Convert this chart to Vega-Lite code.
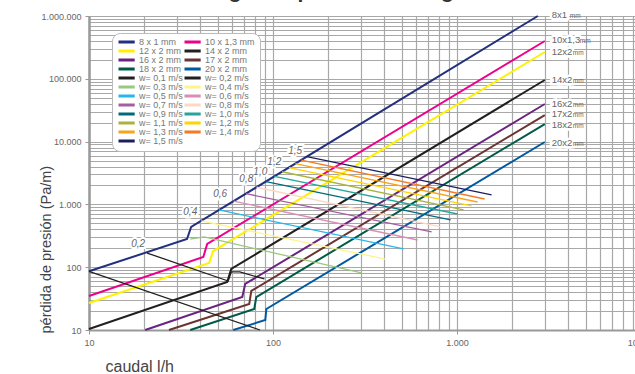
{
  "$schema": "https://vega.github.io/schema/vega-lite/v6.json",
  "width": 552,
  "height": 314,
  "autosize": {"type": "none"},
  "padding": {"left": 89, "top": 16, "right": 0, "bottom": 44},
  "background": "white",
  "title": {"text": "Diagrama pérdida de carga", "anchor": "start", "frame": "group", "dx": 107, "dy": 11, "offset": 2, "baseline": "alphabetic", "fontSize": 21, "fontWeight": "bold", "font": "Liberation Sans", "color": "#333333"},
  "config": {"view": {"stroke": null}, "font": "Liberation Sans"},
  "datasets": {
    "lineas": [
      {"serie": "8 x 1 mm", "tipo": "tubo", "caudal": 10, "presion": 86},
      {"serie": "8 x 1 mm", "tipo": "tubo", "caudal": 34.1, "presion": 281},
      {"serie": "8 x 1 mm", "tipo": "tubo", "caudal": 35.9, "presion": 437},
      {"serie": "8 x 1 mm", "tipo": "tubo", "caudal": 2750, "presion": 1000000},
      {"serie": "10 x 1,3 mm", "tipo": "tubo", "caudal": 10, "presion": 34.8},
      {"serie": "10 x 1,3 mm", "tipo": "tubo", "caudal": 41.8, "presion": 145},
      {"serie": "10 x 1,3 mm", "tipo": "tubo", "caudal": 43.9, "presion": 234},
      {"serie": "10 x 1,3 mm", "tipo": "tubo", "caudal": 3000, "presion": 400000},
      {"serie": "12 x 2 mm", "tipo": "tubo", "caudal": 10, "presion": 26.9},
      {"serie": "12 x 2 mm", "tipo": "tubo", "caudal": 45, "presion": 117},
      {"serie": "12 x 2 mm", "tipo": "tubo", "caudal": 47.3, "presion": 181},
      {"serie": "12 x 2 mm", "tipo": "tubo", "caudal": 3000, "presion": 267000},
      {"serie": "14 x 2 mm", "tipo": "tubo", "caudal": 10, "presion": 10.4},
      {"serie": "14 x 2 mm", "tipo": "tubo", "caudal": 56.4, "presion": 58},
      {"serie": "14 x 2 mm", "tipo": "tubo", "caudal": 59.3, "presion": 93.6},
      {"serie": "14 x 2 mm", "tipo": "tubo", "caudal": 3000, "presion": 95700},
      {"serie": "16 x 2 mm", "tipo": "tubo", "caudal": 20.2, "presion": 10},
      {"serie": "16 x 2 mm", "tipo": "tubo", "caudal": 68.1, "presion": 33.5},
      {"serie": "16 x 2 mm", "tipo": "tubo", "caudal": 70.6, "presion": 54},
      {"serie": "16 x 2 mm", "tipo": "tubo", "caudal": 3000, "presion": 39700},
      {"serie": "17 x 2 mm", "tipo": "tubo", "caudal": 27.2, "presion": 10},
      {"serie": "17 x 2 mm", "tipo": "tubo", "caudal": 74.3, "presion": 26},
      {"serie": "17 x 2 mm", "tipo": "tubo", "caudal": 76.2, "presion": 41.8},
      {"serie": "17 x 2 mm", "tipo": "tubo", "caudal": 3000, "presion": 26500},
      {"serie": "18 x 2 mm", "tipo": "tubo", "caudal": 35.5, "presion": 10},
      {"serie": "18 x 2 mm", "tipo": "tubo", "caudal": 79.1, "presion": 21.6},
      {"serie": "18 x 2 mm", "tipo": "tubo", "caudal": 81.1, "presion": 33.5},
      {"serie": "18 x 2 mm", "tipo": "tubo", "caudal": 3000, "presion": 19000},
      {"serie": "20 x 2 mm", "tipo": "tubo", "caudal": 60.8, "presion": 10},
      {"serie": "20 x 2 mm", "tipo": "tubo", "caudal": 90.8, "presion": 14.4},
      {"serie": "20 x 2 mm", "tipo": "tubo", "caudal": 92, "presion": 21.6},
      {"serie": "20 x 2 mm", "tipo": "tubo", "caudal": 3000, "presion": 9860},
      {"serie": "w= 0,1 m/s", "tipo": "vel", "caudal": 10, "presion": 86},
      {"serie": "w= 0,1 m/s", "tipo": "vel", "caudal": 85, "presion": 10},
      {"serie": "w= 0,2 m/s", "tipo": "vel", "caudal": 20.7, "presion": 168},
      {"serie": "w= 0,2 m/s", "tipo": "vel", "caudal": 57.1, "presion": 60.3},
      {"serie": "w= 0,2 m/s", "tipo": "vel", "caudal": 59.3, "presion": 84},
      {"serie": "w= 0,2 m/s", "tipo": "vel", "caudal": 66, "presion": 84},
      {"serie": "w= 0,2 m/s", "tipo": "vel", "caudal": 89.8, "presion": 64.9},
      {"serie": "w= 0,3 m/s", "tipo": "vel", "caudal": 35.5, "presion": 281},
      {"serie": "w= 0,3 m/s", "tipo": "vel", "caudal": 42.3, "presion": 303},
      {"serie": "w= 0,3 m/s", "tipo": "vel", "caudal": 303, "presion": 80.9},
      {"serie": "w= 0,4 m/s", "tipo": "vel", "caudal": 40.7, "presion": 547},
      {"serie": "w= 0,4 m/s", "tipo": "vel", "caudal": 408, "presion": 135},
      {"serie": "w= 0,5 m/s", "tipo": "vel", "caudal": 50.9, "presion": 815},
      {"serie": "w= 0,5 m/s", "tipo": "vel", "caudal": 512, "presion": 195},
      {"serie": "w= 0,6 m/s", "tipo": "vel", "caudal": 61.1, "presion": 1125},
      {"serie": "w= 0,6 m/s", "tipo": "vel", "caudal": 611, "presion": 271},
      {"serie": "w= 0,7 m/s", "tipo": "vel", "caudal": 71.3, "presion": 1480},
      {"serie": "w= 0,7 m/s", "tipo": "vel", "caudal": 728, "presion": 364},
      {"serie": "w= 0,8 m/s", "tipo": "vel", "caudal": 81.4, "presion": 1875},
      {"serie": "w= 0,8 m/s", "tipo": "vel", "caudal": 814, "presion": 437},
      {"serie": "w= 0,9 m/s", "tipo": "vel", "caudal": 91.6, "presion": 2313},
      {"serie": "w= 0,9 m/s", "tipo": "vel", "caudal": 923, "presion": 565},
      {"serie": "w= 1,0 m/s", "tipo": "vel", "caudal": 101.8, "presion": 2793},
      {"serie": "w= 1,0 m/s", "tipo": "vel", "caudal": 1007, "presion": 703},
      {"serie": "w= 1,1 m/s", "tipo": "vel", "caudal": 112, "presion": 3311},
      {"serie": "w= 1,1 m/s", "tipo": "vel", "caudal": 1086, "presion": 815},
      {"serie": "w= 1,2 m/s", "tipo": "vel", "caudal": 122.2, "presion": 3864},
      {"serie": "w= 1,2 m/s", "tipo": "vel", "caudal": 1200, "presion": 944},
      {"serie": "w= 1,3 m/s", "tipo": "vel", "caudal": 132.3, "presion": 4457},
      {"serie": "w= 1,3 m/s", "tipo": "vel", "caudal": 1294, "presion": 1092},
      {"serie": "w= 1,4 m/s", "tipo": "vel", "caudal": 142.5, "presion": 5080},
      {"serie": "w= 1,4 m/s", "tipo": "vel", "caudal": 1413, "presion": 1219},
      {"serie": "w= 1,5 m/s", "tipo": "vel", "caudal": 152.7, "presion": 5741},
      {"serie": "w= 1,5 m/s", "tipo": "vel", "caudal": 1542, "presion": 1413}
    ],
    "etiquetas_w": [
      {"etiqueta": "0,2", "caudal": 18.5, "presion": 234},
      {"etiqueta": "0,4", "caudal": 35.5, "presion": 757},
      {"etiqueta": "0,6", "caudal": 51.6, "presion": 1466},
      {"etiqueta": "0,8", "caudal": 71.6, "presion": 2535},
      {"etiqueta": "1,0", "caudal": 85.3, "presion": 3281},
      {"etiqueta": "1,2", "caudal": 101.6, "presion": 4730},
      {"etiqueta": "1,5", "caudal": 132, "presion": 7080}
    ],
    "etiquetas_tubo": [
      {"etiqueta": "8x1", "caudal": 3273, "presion": 1040000},
      {"etiqueta": "10x1,3", "caudal": 3273, "presion": 415000},
      {"etiqueta": "12x2", "caudal": 3273, "presion": 267000},
      {"etiqueta": "14x2", "caudal": 3273, "presion": 95700},
      {"etiqueta": "16x2", "caudal": 3273, "presion": 39700},
      {"etiqueta": "17x2", "caudal": 3273, "presion": 27500},
      {"etiqueta": "18x2", "caudal": 3273, "presion": 18400},
      {"etiqueta": "20x2", "caudal": 3273, "presion": 9510}
    ]
  },
  "encoding": {
    "x": {
      "field": "caudal", "type": "quantitative",
      "scale": {"type": "log", "domain": [10, 10000], "nice": false},
      "axis": {
        "title": "caudal l/h",
        "values": [10, 20, 30, 40, 50, 60, 70, 80, 90, 100, 200, 300, 400, 500, 600, 700, 800, 900, 1000, 2000, 3000, 4000, 5000, 6000, 7000, 8000, 9000, 10000],
        "grid": true, "gridColor": "#a8a8a8", "gridWidth": 1.2,
        "domainColor": "#999999", "domainWidth": 2,
        "tickColor": "#999999", "tickSize": 4,
        "tickOpacity": {"condition": {"test": "indexof([10,100,1000,10000], datum.value) < 0", "value": 0}, "value": 1},
        "labelExpr": "datum.value == 10 ? '10' : datum.value == 100 ? '100' : datum.value == 1000 ? '1.000' : datum.value == 10000 ? '10.000' : ''",
        "labelColor": "#666666", "labelFontSize": 9, "labelPadding": 4, "labelFlush": false, "labelOverlap": false,
        "titleX": 16, "titleY": 41, "titleAlign": "left", "titleBaseline": "alphabetic", "titleAnchor": "start",
        "titleFontSize": 16, "titleFontWeight": "normal", "titleColor": "#444444"
      }
    },
    "y": {
      "field": "presion", "type": "quantitative",
      "scale": {"type": "log", "domain": [10, 1000000], "nice": false},
      "axis": {
        "title": "pérdida de presión (Pa/m)",
        "values": [10, 20, 30, 40, 50, 60, 70, 80, 90, 100, 200, 300, 400, 500, 600, 700, 800, 900, 1000, 2000, 3000, 4000, 5000, 6000, 7000, 8000, 9000, 10000, 20000, 30000, 40000, 50000, 60000, 70000, 80000, 90000, 100000, 200000, 300000, 400000, 500000, 600000, 700000, 800000, 900000, 1000000],
        "grid": true, "gridColor": "#a8a8a8", "gridWidth": 1.2,
        "domainColor": "#999999", "domainWidth": 2.5,
        "tickColor": "#999999", "tickSize": 4,
        "tickOpacity": {"condition": {"test": "indexof([10,100,1000,10000,100000,1000000], datum.value) < 0", "value": 0}, "value": 1},
        "labelExpr": "datum.value == 10 ? '10' : datum.value == 100 ? '100' : datum.value == 1000 ? '1.000' : datum.value == 10000 ? '10.000' : datum.value == 100000 ? '100.000' : datum.value == 1000000 ? '1.000.000' : ''",
        "labelColor": "#666666", "labelFontSize": 9, "labelPadding": 4, "labelFlush": false, "labelOverlap": false,
        "titleX": -43, "titleY": 317, "titleAngle": 270, "titleAlign": "left", "titleBaseline": "middle",
        "titleFontSize": 14.5, "titleFontWeight": "normal", "titleColor": "#444444"
      }
    }
  },
  "layer": [
    {
      "data": {"name": "lineas"},
      "transform": [{"filter": "datum.tipo == 'tubo'"}],
      "mark": {"type": "line", "strokeWidth": 2},
      "encoding": {
        "detail": {"field": "serie"},
        "color": {
          "field": "serie", "type": "nominal",
          "scale": {
            "domain": ["8 x 1 mm", "12 x 2 mm", "16 x 2 mm", "18 x 2 mm", "w= 0,1 m/s", "w= 0,3 m/s", "w= 0,5 m/s", "w= 0,7 m/s", "w= 0,9 m/s", "w= 1,1 m/s", "w= 1,3 m/s", "w= 1,5 m/s", "10 x 1,3 mm", "14 x 2 mm", "17 x 2 mm", "20 x 2 mm", "w= 0,2 m/s", "w= 0,4 m/s", "w= 0,6 m/s", "w= 0,8 m/s", "w= 1,0 m/s", "w= 1,2 m/s", "w= 1,4 m/s"],
            "range": ["#22307e", "#fff200", "#6a2381", "#005a46", "#231f20", "#98c97c", "#29b6e8", "#a65d9e", "#006a7c", "#a8b43c", "#f7a51c", "#1c1f5e", "#ec008c", "#231f20", "#6b3431", "#0059a0", "#231f20", "#fff48c", "#d98fb5", "#fcd9c4", "#26a69a", "#ffd400", "#f47b20"]
          },
          "legend": {
            "orient": "none", "legendX": 23, "legendY": 17, "columns": 2, "title": null,
            "symbolType": "M-1,0H4.4", "symbolSize": 36, "symbolStrokeWidth": 3,
            "labelFontSize": 9, "labelColor": "#777777", "labelOffset": 13, "labelLimit": 60,
            "clipHeight": 8, "rowPadding": 0, "columnPadding": 0, "padding": 5,
            "fillColor": "white", "strokeColor": "#bbbbbb", "cornerRadius": 8
          }
        }
      }
    },
    {
      "data": {"name": "lineas"},
      "transform": [{"filter": "datum.tipo == 'vel'"}],
      "mark": {"type": "line", "strokeWidth": 1.3},
      "encoding": {
        "detail": {"field": "serie"},
        "color": {"field": "serie", "type": "nominal"}
      }
    },
    {
      "data": {"name": "etiquetas_w"},
      "mark": {"type": "text", "fontStyle": "italic", "fontSize": 10, "align": "center", "baseline": "middle", "fill": "white", "stroke": "white", "strokeWidth": 4},
      "encoding": {"text": {"field": "etiqueta"}}
    },
    {
      "data": {"name": "etiquetas_w"},
      "mark": {"type": "text", "fontStyle": "italic", "fontSize": 10, "align": "center", "baseline": "middle", "fill": "#666666"},
      "encoding": {"text": {"field": "etiqueta"}}
    },
    {
      "data": {"name": "etiquetas_tubo"},
      "mark": {"type": "text", "fontSize": 9.5, "align": "left", "baseline": "middle", "fill": "white", "stroke": "white", "strokeWidth": 5},
      "encoding": {"text": {"field": "etiqueta"}}
    },
    {
      "data": {"name": "etiquetas_tubo"},
      "mark": {"type": "text", "fontSize": 9.5, "align": "left", "baseline": "middle", "fill": "#666666"},
      "encoding": {"text": {"field": "etiqueta"}}
    },
    {
      "data": {"name": "etiquetas_tubo"},
      "transform": [{"filter": "length(datum.etiqueta) == 3"}],
      "mark": {"type": "text", "fontSize": 6.5, "align": "left", "baseline": "middle", "fill": "#666666", "dx": 18, "dy": 1},
      "encoding": {"text": {"value": "mm"}}
    },
    {
      "data": {"name": "etiquetas_tubo"},
      "transform": [{"filter": "length(datum.etiqueta) == 4"}],
      "mark": {"type": "text", "fontSize": 6.5, "align": "left", "baseline": "middle", "fill": "#666666", "dx": 21, "dy": 1},
      "encoding": {"text": {"value": "mm"}}
    },
    {
      "data": {"name": "etiquetas_tubo"},
      "transform": [{"filter": "length(datum.etiqueta) == 6"}],
      "mark": {"type": "text", "fontSize": 6.5, "align": "left", "baseline": "middle", "fill": "#666666", "dx": 28, "dy": 1},
      "encoding": {"text": {"value": "mm"}}
    }
  ]
}
